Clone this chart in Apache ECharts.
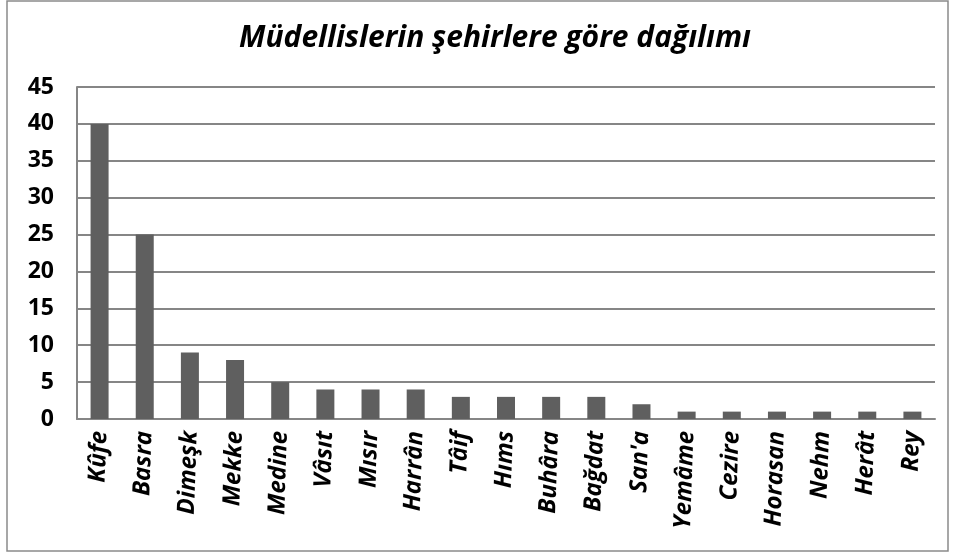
<!DOCTYPE html>
<html>
<head>
<meta charset="utf-8">
<script src="https://cdn.jsdelivr.net/npm/echarts@6/dist/echarts.min.js"></script>
<style>
html, body { margin: 0; padding: 0; background: #fff; }
#chart { width: 955px; height: 556px; }
</style>
</head>
<body>
<div id="chart"></div>
<script>
var cities = ['Kûfe', 'Basra', 'Dimeşk', 'Mekke', 'Medine', 'Vâsıt', 'Mısır', 'Harrân', 'Tâif', 'Hıms',
    'Buhâra', 'Bağdat', "San'a", 'Yemâme', 'Cezire', 'Horasan', 'Nehm', 'Herât', 'Rey'];
var counts = [40, 25, 9, 8, 5, 4, 4, 4, 3, 3, 3, 3, 2, 1, 1, 1, 1, 1, 1];
var titleText = 'Müdellislerin şehirlere göre dağılımı';

var myChart = echarts.init(document.getElementById('chart'));
var option = {
    animation: false,
    title: {
        text: titleText,
        left: 490,
        textAlign: 'center',
        top: 18,
        textStyle: {
            fontFamily: 'Open Sans',
            fontStyle: 'italic',
            fontWeight: 'bold',
            fontSize: 30,
            color: '#000'
        }
    },
    graphic: [{
        type: 'rect',
        shape: { x: 7, y: 1, width: 941, height: 550 },
        style: { fill: 'none', stroke: '#8a8a8a', lineWidth: 1.5 }
    }],
    grid: {
        left: 77,
        right: 20,
        top: 87,
        bottom: 137
    },
    xAxis: {
        type: 'category',
        data: cities,
        axisLine: { lineStyle: { color: '#868686', width: 2 } },
        axisTick: { show: false },
        axisLabel: {
            interval: 0,
            rotate: 88,
            margin: 12,
            fontFamily: 'Open Sans',
            fontStyle: 'italic',
            fontWeight: 'bold',
            fontSize: 24,
            color: '#000'
        }
    },
    yAxis: {
        type: 'value',
        min: 0,
        max: 45,
        interval: 5,
        axisLine: { show: true, lineStyle: { color: '#868686', width: 2 } },
        axisTick: { show: false },
        splitLine: { lineStyle: { color: '#868686', width: 2 } },
        axisLabel: {
            margin: 23,
            fontFamily: 'Open Sans',
            fontWeight: 'bold',
            fontSize: 23,
            color: '#000'
        }
    },
    series: [{
        type: 'bar',
        data: counts,
        barWidth: 18,
        itemStyle: { color: '#5f5f5f' }
    }]
};
myChart.setOption(option);
</script>
</body>
</html>
